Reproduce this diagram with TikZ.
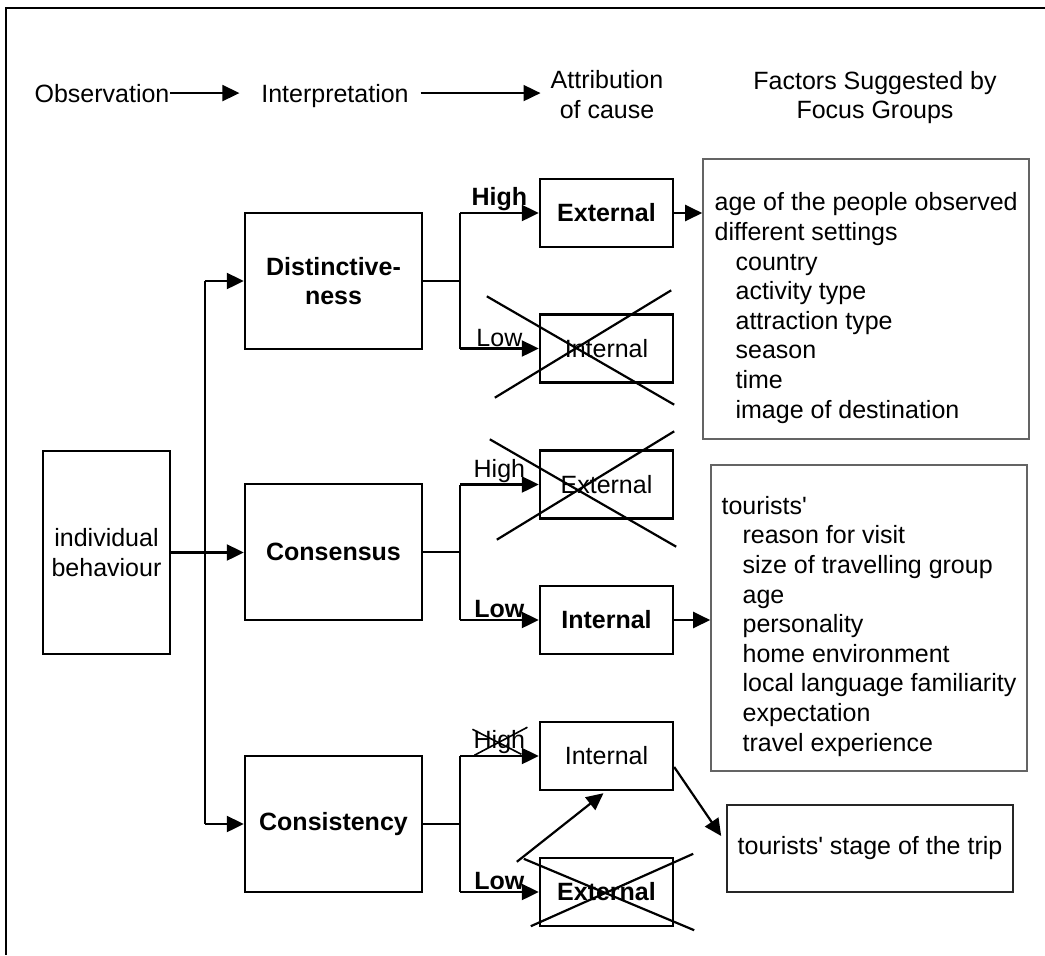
\documentclass[tikz,border=0pt]{standalone}
\usepackage{fontspec}
\setmainfont{Liberation Sans}
\usetikzlibrary{positioning, arrows.meta}
\definecolor{FGgrey}{RGB}{100,100,100}
\tikzset{
	flowbox/.style={shape=rectangle, draw=black, line width=1.2pt, minimum width=88.5pt, minimum height=68pt, align=center, font=\bfseries},
	causebox/.style={shape=rectangle, draw=black, line width=1.2pt, minimum width=66.5pt, minimum height=34pt},
	factbox/.style={shape=rectangle, draw=FGgrey, line width=0.8pt},
	conn/.style={line width=1.1pt, -{Triangle[length=8.5pt, width=8pt]}},
	wire/.style={line width=1.1pt},
	strikeline/.style={line width=1.1pt},
	branchlabel/.style={midway, above, inner sep=0.5pt}
}
\newcommand{\factindent}{\hspace*{10.5pt}}

\begin{document}
\fontsize{12.5pt}{14.8pt}\selectfont
\begin{tikzpicture}[x=0.5pt, y=-0.5pt]
		\useasboundingbox (0,0) rectangle (1045,955);
		% frame
		\draw[line width=1.3pt] (1045,8) -- (6,8) -- (6,955);

		% header
		\node[inner sep=0pt, anchor=base] (obs) at (102,102) {Observation};
		\node[inner sep=0pt, anchor=base] (interp) at (335,102) {Interpretation};
		\node[inner sep=0pt, align=center] (attr) at (607,94.5) {Attribution\\of cause};
		\node[inner sep=0pt, align=center] (factors) at (875,97.5) {Factors Suggested by\\Focus Groups};
		\draw[conn, line width=0.9pt, shorten >=10.75pt] (obs.east) -- (obs.east -| interp.west);
		\draw[conn, line width=0.9pt, shorten <=5.75pt, shorten >=4.9pt] (interp.east |- obs.east) -- (obs.east -| attr.west);

		% observation
		\node[shape=rectangle, draw=black, line width=1.2pt, minimum width=60.5pt, minimum height=101.5pt, align=center] (indiv) at (106.5,552.5) {individual\\behaviour};

		% interpretation
		\node[flowbox] (distinct) at (333.5,281) {Distinctive-\\ness};
		\node[flowbox] (consensus) at (333.5,552) {Consensus};
		\node[flowbox] (consist) at (333.5,824) {Consistency};
		\coordinate (trunk) at (205,552);
		\draw[conn] (indiv.east) -- (indiv.east -| consensus.west);
		\draw[wire] (trunk |- distinct.west) -- (trunk |- consist.west);
		\draw[conn] (trunk |- distinct.west) -- (distinct.west);
		\draw[conn] (trunk |- consist.west) -- (consist.west);

		% attribution of cause
		\node[causebox, font=\bfseries] (extA) at (606.5,213) {External};
		\node[causebox] (intA) at (606.5,348.5) {Internal};
		\node[causebox] (extB) at (606.5,484.5) {External};
		\node[causebox, font=\bfseries] (intB) at (606.5,620) {Internal};
		\node[causebox] (intC) at (606.5,756) {Internal};
		\node[causebox, font=\bfseries] (extC) at (606.5,892) {External};

		% distinctiveness branch
		\coordinate (forkA) at (460,281);
		\draw[wire] (distinct.east) -- (forkA);
		\draw[wire] (forkA |- extA.west) -- (forkA |- intA.west);
		\path[conn] (forkA |- extA.west) edge node[branchlabel, font=\bfseries] {High} (extA.west);
		\path[conn] (forkA |- intA.west) edge node[branchlabel] {Low} (intA.west);
		\draw[strikeline] ([shift={(-52,-17)}]intA.north west) -- ([shift={(0,21)}]intA.south east);
		\draw[strikeline] ([shift={(-44,14)}]intA.south west) -- ([shift={(-3,-23)}]intA.north east);

		% consensus branch
		\coordinate (forkB) at (460,552);
		\draw[wire] (consensus.east) -- (forkB);
		\draw[wire] (forkB |- extB.west) -- (forkB |- intB.west);
		\path[conn] (forkB |- extB.west) edge node[branchlabel] {High} (extB.west);
		\path[conn] (forkB |- intB.west) edge node[branchlabel, font=\bfseries] {Low} (intB.west);
		\draw[strikeline] ([shift={(-49,-10)}]extB.north west) -- ([shift={(2,27)}]extB.south east);
		\draw[strikeline] ([shift={(-42,20)}]extB.south west) -- ([shift={(0,-18)}]extB.north east);

		% consistency branch
		\coordinate (forkC) at (460,824);
		\draw[wire] (consist.east) -- (forkC);
		\draw[wire] (forkC |- intC.west) -- (forkC |- extC.west);
		\path[conn] (forkC |- intC.west) edge node[branchlabel] (highC) {High} (intC.west);
		\path[conn] (forkC |- extC.west) edge node[branchlabel, font=\bfseries] {Low} (extC.west);
		\draw[line width=0.8pt] ([shift={(-27,-13)}]highC.center) -- ([shift={(22,12)}]highC.center);
		\draw[line width=0.8pt] ([shift={(-25,13)}]highC.center) -- ([shift={(28,-15)}]highC.center);
		\draw[strikeline] ([shift={(-15,2)}]extC.north west) -- ([shift={(20,3)}]extC.south east);
		\draw[strikeline] ([shift={(-8,-1)}]extC.south west) -- ([shift={(19,-3)}]extC.north east);
		\draw[conn] ([shift={(-22,5)}]extC.north west) -- ([shift={(-3,2)}]intC.south);

		% factors
		\node[factbox, minimum width=163pt, minimum height=140pt] (factA) at (866,299) {};
		\node[below right=17.1pt and 6pt of factA.north west, inner sep=0pt, align=left] (factAtext) {age of the people observed\\different settings\\\factindent country\\\factindent activity type\\\factindent attraction type\\\factindent season\\\factindent time\\\factindent image of destination};
		\node[factbox, minimum width=158pt, minimum height=153pt] (factB) at (869,618) {};
		\node[below right=15.8pt and 5.5pt of factB.north west, inner sep=0pt, align=left] (factBtext) {tourists\textquotesingle\\\factindent reason for visit\\\factindent size of travelling group\\\factindent age\\\factindent personality\\\factindent home environment\\\factindent local language familiarity\\\factindent expectation\\\factindent travel experience};
		\node[shape=rectangle, draw=black!85, line width=0.8pt, minimum width=143pt, minimum height=43.5pt] (stage) at (870,848.5) {tourists\textquotesingle{} stage of the trip};
		\draw[conn] (extA.east) -- (extA.east -| factA.west);
		\draw[conn] (intB.east) -- (intB.east -| factB.west);
		\draw[conn] ([shift={(0,11)}]intC.east) -- ([shift={(-5,-12.5)}]stage.west);
\end{tikzpicture}
\end{document}
